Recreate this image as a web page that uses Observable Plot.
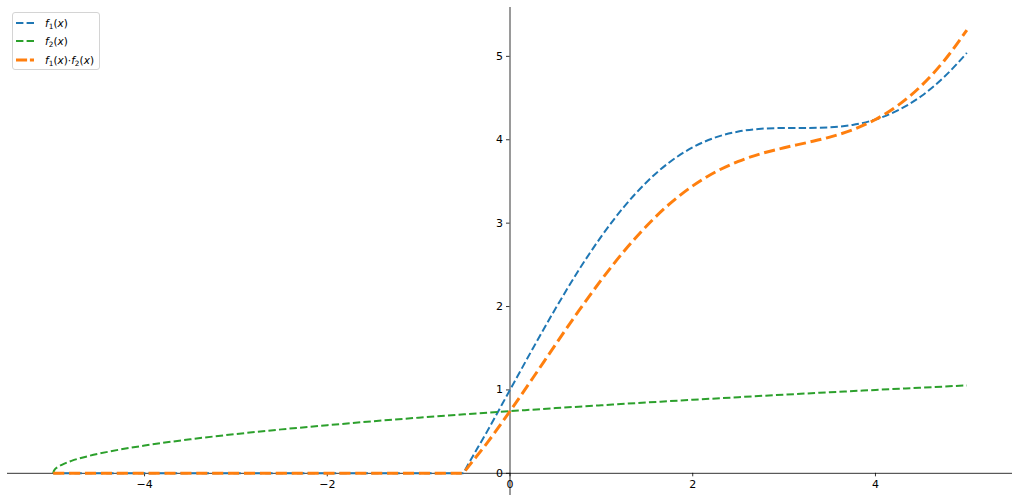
<!DOCTYPE html>
<html><head><meta charset="utf-8">
<script src="https://cdn.jsdelivr.net/npm/d3@7"></script>
<script src="https://cdn.jsdelivr.net/npm/@observablehq/plot@0.6"></script>
<style>
body{margin:0;background:#fff;font-family:"DejaVu Sans",sans-serif;}
#wrap{position:relative;width:1018px;height:503px;}
#legend{position:absolute;left:12px;top:12px;width:88px;height:58px;border:1px solid #d4d4d4;border-radius:3px;background:rgba(255,255,255,0.8);box-sizing:border-box;font-size:10.5px;color:#000;}
.row{position:absolute;left:3px;height:14px;display:flex;align-items:center;white-space:nowrap;}
.row svg{width:18px;height:6px;margin-right:11px;}
sub{font-size:70%;vertical-align:-0.3em;line-height:0;}
i{font-style:italic;}
</style>
</head><body>
<div id="wrap"><div id="legend"></div></div>
<script>
const xA = [-5, -0.51, -0.5, -0.25, 0, 0.25, 0.5, 0.75, 1, 1.25, 1.5, 1.75, 2, 2.25, 2.5, 2.75, 3, 3.25, 3.5, 3.75, 4, 4.25, 4.5, 4.75, 5];
const f1Vals = [0, 0, 0.021, 0.503, 1.0, 1.497, 1.979, 2.432, 2.841, 3.199, 3.497, 3.734, 3.909, 4.028, 4.098, 4.132, 4.141, 4.142, 4.149, 4.178, 4.243, 4.355, 4.522, 4.751, 5.041];
const prodVals = [0, 0, 0.015, 0.365, 0.745, 1.143, 1.547, 1.944, 2.320, 2.666, 2.972, 3.234, 3.447, 3.615, 3.741, 3.834, 3.904, 3.966, 4.032, 4.120, 4.243, 4.415, 4.646, 4.945, 5.314];
// f2 sampled positions and values
const xB = [-5, -4.99, -4.95, -4.9, -4.8, -4.6, -4.4, -4, -3.5, -3, -2.5, -2, -1.5, -1, -0.5, 0, 0.5, 1, 1.5, 2, 2.5, 3, 3.5, 4, 4.5, 5];
const f2Vals = [0, 0.033, 0.075, 0.105, 0.149, 0.211, 0.258, 0.333, 0.408, 0.471, 0.527, 0.577, 0.624, 0.667, 0.707, 0.745, 0.782, 0.816, 0.850, 0.882, 0.913, 0.943, 0.972, 1.0, 1.027, 1.054];

const xTicks = [-4, -2, 0, 2, 4];
const yTicks = [0, 1, 2, 3, 4, 5];
const xDomain = [-5.5, 5.5];
const yDomain = [-0.266, 5.586];

const seriesNames = ["f1", "f2", "prod"];
const colors = ["#1f77b4", "#2ca02c", "#ff7f0e"];

const dA = xA.map((x, i) => ({x, f1: f1Vals[i], p: prodVals[i]}));
const dB = xB.map((x, i) => ({x, f2: f2Vals[i]}));

const W = 1018, H = 503;
const plot = Plot.plot({
  width: W, height: H,
  marginLeft: 7, marginRight: 6, marginTop: 7, marginBottom: 8,
  style: {fontFamily: "DejaVu Sans", fontSize: "11px", color: "#000", background: "transparent", overflow: "visible"},
  x: {domain: xDomain},
  y: {domain: yDomain},
  marks: [
    Plot.ruleY([0], {stroke: "#000", strokeWidth: 0.8}),
    Plot.ruleX([0], {stroke: "#000", strokeWidth: 0.8}),
    Plot.axisX({anchor: "bottom", ticks: xTicks, tickSize: 3.5, tickPadding: 3, tickFormat: d3.format("d"), stroke: "#000", strokeWidth: 0.8, label: null}),
    Plot.axisY({anchor: "left", ticks: yTicks, tickSize: 3.5, tickPadding: 3.5, tickFormat: d3.format("d"), stroke: "#000", strokeWidth: 0.8, label: null}),
    Plot.line(dA, {x: "x", y: "f1", stroke: colors[0], strokeWidth: 2, strokeDasharray: "7.4,3.2", curve: "monotone-x", strokeLinecap: "butt"}),
    Plot.line(dB, {x: "x", y: "f2", stroke: colors[1], strokeWidth: 2, strokeDasharray: "7.4,3.2", curve: "monotone-x", strokeLinecap: "butt"}),
    Plot.line(dA, {x: "x", y: "p", stroke: colors[2], strokeWidth: 3, strokeDasharray: "11.1,4.8", curve: "monotone-x", strokeLinecap: "butt"})
  ]
});

function shift(svg, label, dx, dy) {
  svg.querySelectorAll(`g[aria-label="${label}"]`).forEach(g => {
    const w = document.createElementNS("http://www.w3.org/2000/svg", "g");
    w.setAttribute("transform", `translate(${dx},${dy})`);
    g.parentNode.insertBefore(w, g);
    w.appendChild(g);
  });
}
const ys = plot.scale("y"), xs = plot.scale("x");
const dy = ys.apply(0) - ys.range[0];
const dx = xs.apply(0) - xs.range[0];
shift(plot, "x-axis tick", 0, dy);
shift(plot, "x-axis tick label", 0, dy);
shift(plot, "y-axis tick", dx, 0);
shift(plot, "y-axis tick label", dx, 0);

const wrap = document.getElementById("wrap");
wrap.insertBefore(plot, wrap.firstChild);

// legend
const legendLabels = ["<i>f</i><sub>1</sub>(<i>x</i>)", "<i>f</i><sub>2</sub>(<i>x</i>)", "<i>f</i><sub>1</sub>(<i>x</i>)·<i>f</i><sub>2</sub>(<i>x</i>)"];
const legendDash = ["7.4,3.2", "7.4,3.2", "11.1,2.8"];
const legendWidth = [2, 2, 3];
const rowTops = [3, 21, 40];
const leg = document.getElementById("legend");
legendLabels.forEach((lab, i) => {
  const r = document.createElement("div");
  r.className = "row";
  r.style.top = rowTops[i] + "px";
  r.innerHTML = `<svg viewBox="0 0 18 6"><line x1="0" y1="3" x2="18" y2="3" stroke="${colors[i]}" stroke-width="${legendWidth[i]}" stroke-dasharray="${legendDash[i]}"/></svg><span>${lab}</span>`;
  leg.appendChild(r);
});
</script>
</body></html>
